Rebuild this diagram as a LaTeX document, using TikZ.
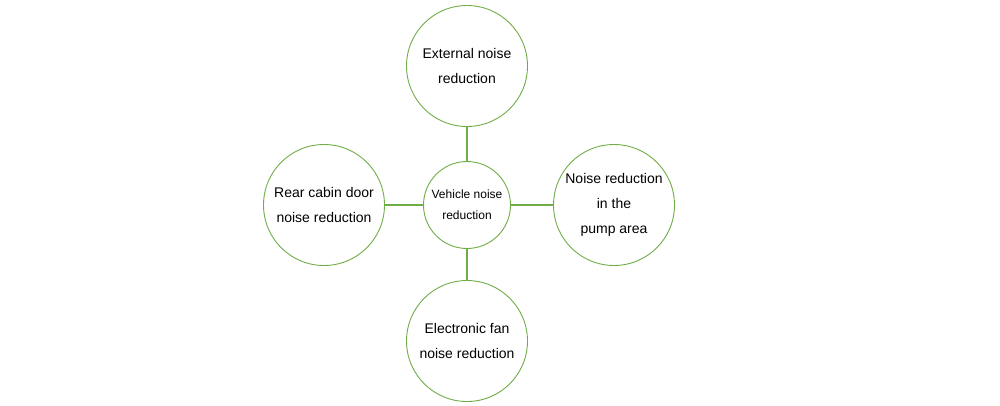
\documentclass[tikz,border=0pt]{standalone}
\usepackage{fontspec}
\setmainfont{Liberation Sans}
\definecolor{leaf}{HTML}{70AD47}
\begin{document}
\begin{tikzpicture}[x=1pt,y=-1pt,
  bubble/.style={circle,draw=leaf,line width=0.9pt,fill=white,inner sep=0pt,
    minimum size=121pt,align=center,font=\fontsize{14pt}{25pt}\selectfont},
  hub/.style={bubble,minimum size=87pt,font=\fontsize{12pt}{21pt}\selectfont},
  link/.style={draw=leaf,line width=1.8pt}]
\useasboundingbox (0,0) rectangle (1000,405);
\node[hub] (c) at (467,205) {Vehicle noise\\reduction};
\node[bubble] (t) at (467,66) {External noise\\reduction};
\node[bubble] (l) at (324,205) {Rear cabin door\\noise reduction};
\node[bubble] (r) at (614,205) {Noise reduction\\in the\\pump area};
\node[bubble] (b) at (467,341) {Electronic fan\\noise reduction};
\draw[link] (t) -- (c);
\draw[link] (c) -- (b);
\draw[link] (l) -- (c);
\draw[link] (c) -- (r);
\end{tikzpicture}
\end{document}
